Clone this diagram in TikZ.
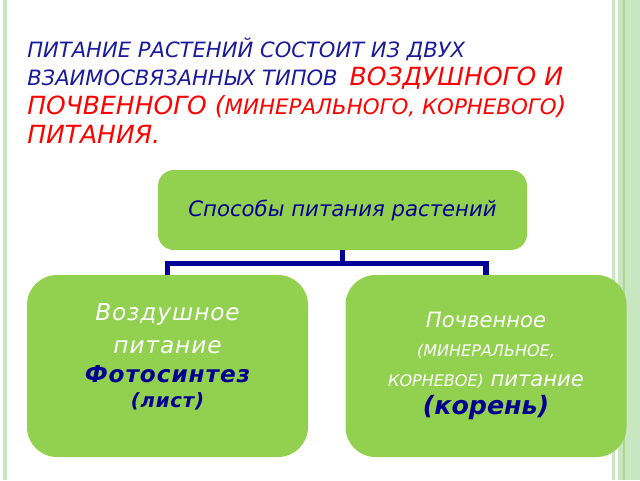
\documentclass[tikz,border=0pt]{standalone}
\usepackage{fontspec}
\setmainfont{DejaVu Sans}
\newfontfamily\spacedsans[LetterSpace=4]{DejaVu Sans}
\usepackage{xcolor}
\definecolor{leaf}{HTML}{92D050}
\definecolor{ink}{HTML}{000090}
\definecolor{headblue}{HTML}{1A1A9C}
\definecolor{headred}{HTML}{FF0000}
\definecolor{linkblue}{HTML}{000099}
\definecolor{edgepale}{HTML}{C8E6C0}
\definecolor{edgemid}{HTML}{A6D890}
\usetikzlibrary{positioning,calc}

\begin{document}
\begin{tikzpicture}[
      headline/.style={anchor=base west, inner sep=0pt, font=\itshape\fontsize{15}{17}\selectfont},
      waybox/.style={rectangle, rounded corners=0.4cm, fill=leaf, text=ink, minimum width=9.225cm, minimum height=2cm, font=\itshape\fontsize{15.1}{19}\selectfont, align=center},
      kindbox/.style={rectangle, rounded corners=0.75cm, fill=leaf, text=white, minimum width=7.025cm, minimum height=4.55cm, align=center},
      link/.style={draw=linkblue, line width=3.6pt}
    ]
      \fill[white] (0,0) rectangle (16,-12);
      % slide edge stripes
      \fill[edgepale] (0.075,0) rectangle (0.175,-12);
      \fill[edgepale] (15.3,0) rectangle (15.375,-12);
      \fill[edgepale] (15.45,0) rectangle (16,-12);
      \fill[edgemid] (15.575,0) rectangle (15.625,-12);
      % heading
      \node[headline, text=headblue] (head1) at (0.675,-1.425) {ПИТАНИЕ РАСТЕНИЙ СОСТОИТ ИЗ ДВУХ};
      \node[headline] (head2) at (0.675,-2.125) {\textcolor{headblue}{ВЗАИМОСВЯЗАННЫХ ТИПОВ}\hspace{0.3cm}\textcolor{headred}{\fontsize{17.8}{20}\selectfont ВОЗДУШНОГО И}};
      \node[headline, text=headred] (head3) at (0.675,-2.85) {\fontsize{17.8}{20}\selectfont ПОЧВЕННОГО (\fontsize{15.2}{18}\selectfont МИНЕРАЛЬНОГО, КОРНЕВОГО\fontsize{17.8}{20}\selectfont)};
      \node[headline, text=headred] (head4) at (0.675,-3.575) {\fontsize{17.8}{20}\selectfont ПИТАНИЯ.};
      % diagram
      \node[waybox] (ways) at (8.5625,-5.25) {Способы питания растений};
      \node[kindbox, font=\spacedsans\itshape\fontsize{16.5}{23.5}\selectfont] (air) at (4.1875,-9.15) {Воздушное\\питание\\[-2.9pt]{\bfseries\color{ink}Фотосинтез}\\[-5.7pt]{\bfseries\color{ink}\fontsize{14}{16}\selectfont(лист)}\\[-8pt]~};
      \node[kindbox, font=\itshape\fontsize{15}{20}\selectfont] (soil) at (12.15,-9.15) {Почвенное\\{\fontsize{11.4}{12}\selectfont(МИНЕРАЛЬНОЕ,}\\[1.3pt]{\fontsize{11.4}{12}\selectfont КОРНЕВОЕ)} питание\\{\bfseries\color{ink}\fontsize{18}{21}\selectfont(корень)}};
      \coordinate (fork) at ($(ways.south)+(0,-0.33)$);
      \draw[link] (ways.south) -- (fork);
      \draw[link] (air.north) |- (fork) -| (soil.north);
    \end{tikzpicture}
\end{document}
